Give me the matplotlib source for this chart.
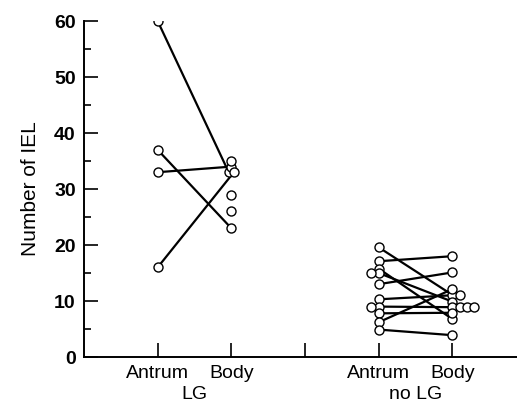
import matplotlib.pyplot as plt
from matplotlib.ticker import MultipleLocator

plt.rcParams['font.family'] = ['Liberation Sans', 'DejaVu Sans']

# IEL counts, antrum -> body (one line per patient)
lg_antrum = [60, 37, 33, 16]
lg_body = [33, 23, 34, 33]
lg_body_extra = [35, 29, 26]

nolg_antrum = [19.6, 17.1, 15.8, 15.0, 13.0, 10.3, 9.0, 7.8, 6.2, 4.9]
nolg_body = [11.1, 18.0, 6.8, 9.9, 15.1, 11.1, 8.9, 7.9, 12.1, 3.9]
nolg_antrum_extra = [15.0, 9.0]
nolg_body_extra = [8.9, 8.9, 8.9]

tick_labels = ['Antrum', 'Body', '', 'Antrum', 'Body']
groups = ['LG', 'no LG']


def dodge(vals, x, side, step=0.1):
    # spread circles that share the same value side by side
    xs = []
    for i, v in enumerate(vals):
        n = vals.count(v)
        k = vals[:i].count(v)
        if side == 0:
            xs.append(x + (k - (n - 1) / 2) * step * 0.7)
        else:
            xs.append(x + side * k * step)
    return xs


fig = plt.figure(figsize=(5.17, 4.05), dpi=100)
ax = fig.add_axes([0.1625, 0.1185, 0.8375, 0.8296])

for xa, xb, a, b, a_ex, b_ex, sa, sb in [
        (1, 2, lg_antrum, lg_body, [], lg_body_extra, 0, 0),
        (4, 5, nolg_antrum, nolg_body, nolg_antrum_extra, nolg_body_extra, -1, 1)]:
    av = a + a_ex
    bv = b + b_ex
    ax_ = dodge(av, xa, sa)
    bx_ = dodge(bv, xb, sb)
    for i in range(len(a)):
        ax.plot([ax_[i], bx_[i]], [a[i], b[i]], color='black', lw=1.6, zorder=2)
    ax.plot(ax_, av, 'o', ms=6.5, mfc='white', mec='black', mew=1.0, zorder=3)
    ax.plot(bx_, bv, 'o', ms=6.5, mfc='white', mec='black', mew=1.0, zorder=3)

ax.set_xlim(0, 5.88)
ax.set_ylim(0, 60)
ax.spines['top'].set_visible(False)
ax.spines['right'].set_visible(False)
ax.spines['left'].set_linewidth(1.4)
ax.spines['bottom'].set_linewidth(1.4)

ax.set_xticks([1, 2, 3, 4, 5])
ax.set_xticklabels(tick_labels, fontsize=14)
ax.tick_params(axis='x', direction='in', length=10, width=1.2, pad=6)
ax.yaxis.set_major_locator(MultipleLocator(10))
ax.yaxis.set_minor_locator(MultipleLocator(5))
ax.tick_params(axis='y', which='major', direction='in', length=10, width=1.2, pad=6)
ax.tick_params(axis='y', which='minor', direction='in', length=5, width=1.2)
for lab in ax.get_yticklabels():
    lab.set_fontweight('bold')
    lab.set_fontsize(14)
ax.set_ylabel('Number of IEL', fontsize=15, labelpad=10)

for xc, g in zip([1.5, 4.5], groups):
    ax.text(xc, -0.137, g, transform=ax.get_xaxis_transform(),
            ha='center', va='bottom', fontsize=14)

fig.savefig('out.png', dpi=100)
